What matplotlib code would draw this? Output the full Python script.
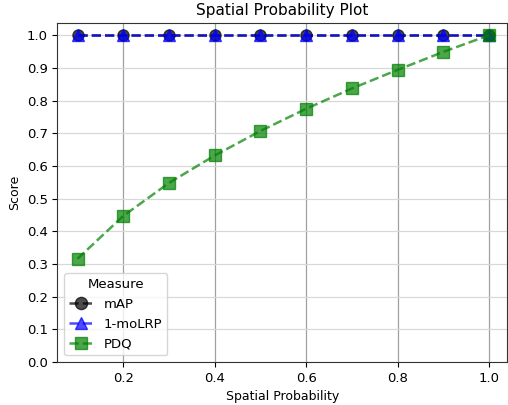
import matplotlib
matplotlib.use("Agg")
import matplotlib.pyplot as plt

# spatial probability settings and scores per measure
spatial_prob = [0.1, 0.2, 0.3, 0.4, 0.5, 0.6, 0.7, 0.8, 0.9, 1.0]
map_scores = [1.0, 1.0, 1.0, 1.0, 1.0, 1.0, 1.0, 1.0, 1.0, 1.0]
molrp_scores = [1.0, 1.0, 1.0, 1.0, 1.0, 1.0, 1.0, 1.0, 1.0, 1.0]
pdq_scores = [0.316, 0.447, 0.548, 0.632, 0.707, 0.775, 0.837, 0.894, 0.949, 1.0]

plt.rcParams['font.size'] = 9
plt.rcParams['xtick.labelsize'] = 9.5
plt.rcParams['ytick.labelsize'] = 9.5
plt.rcParams['axes.edgecolor'] = '#333333'

fig, ax = plt.subplots(figsize=(5.08, 4.05), dpi=100)

ax.plot(spatial_prob, map_scores, '--o', color='black', alpha=0.7,
        lw=1.8, markersize=8, label='mAP')
ax.plot(spatial_prob, molrp_scores, '--^', color='blue', alpha=0.7,
        lw=1.8, markersize=8, label='1-moLRP')
ax.plot(spatial_prob, pdq_scores, '--s', color='green', alpha=0.7,
        lw=1.8, markersize=8, label='PDQ')

ax.set_xlim(0.056, 1.039)
ax.set_ylim(0, 1.037)
ax.set_yticks([i / 10 for i in range(11)])
ax.grid(axis='x', color='#a0a0a0', lw=0.9)
ax.grid(axis='y', color='#d8d8d8', lw=0.9)
ax.set_axisbelow(True)

ax.set_title('Spatial Probability Plot', fontsize=11)
ax.set_xlabel('Spatial Probability')
ax.set_ylabel('Score')
ax.legend(title='Measure', loc='lower left', title_fontsize=9.5,
          fontsize=9.5, handlelength=1.8, markerscale=1.1)

fig.subplots_adjust(left=0.113, right=0.998, top=0.943, bottom=0.106)
fig.savefig('out.png')
